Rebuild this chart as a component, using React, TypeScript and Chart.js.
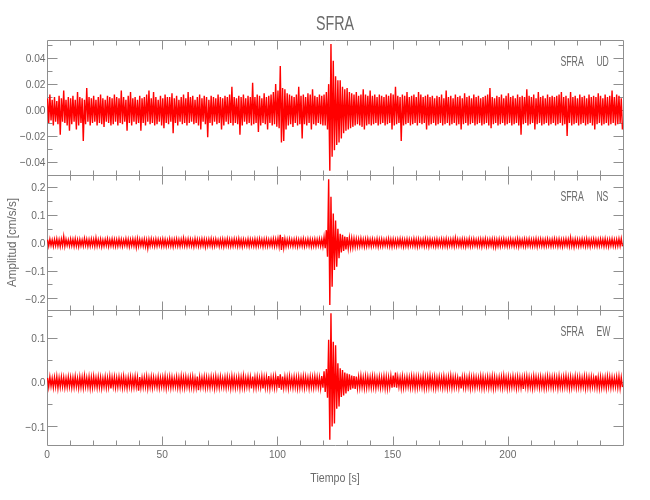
import React, { useEffect, useRef } from "react";
import { Chart, registerables } from "chart.js";

Chart.register(...registerables);

// ---------------- data ----------------
const TITLE = "SFRA";
const STATION = "SFRA";
const X_LABEL = "Tiempo [s]";
const Y_LABEL = "Amplitud [cm/s/s]";
const T_MIN = 0;
const T_MAX = 250;
const DT = 1; // seconds per envelope bin
const UNIT = 0.001; // stored values are in 1e-3 cm/s/s

const X_TICKS = [0, 50, 100, 150, 200];
const X_MINOR = [10, 20, 30, 40, 60, 70, 80, 90, 110, 120, 130, 140, 160, 170, 180, 190, 210, 220, 230, 240];

const UD_RANGE = [-0.0502, 0.0541];
const NS_RANGE = [-0.2417, 0.2431];
const EW_RANGE = [-0.1419, 0.1636];

const UD_TICKS = [-0.04, -0.02, 0, 0.02, 0.04];
const UD_MINOR = [-0.05, -0.03, -0.01, 0.01, 0.03, 0.05];
const NS_TICKS = [-0.2, -0.1, 0, 0.1, 0.2];
const NS_MINOR = [-0.15, -0.05, 0.05, 0.15];
const EW_TICKS = [-0.1, 0, 0.1];
const EW_MINOR = [-0.05, 0.05, 0.15];

// per-second maxima / minima of each trace (1e-3 cm/s/s)
const UD_HI = [
  9, 12, 8, 10, 7, 11, 9, 15, 8, 10,
  9, 11, 8, 14, 10, 9, 8, 17, 10, 9,
  11, 8, 10, 12, 9, 8, 11, 10, 9, 12,
  10, 9, 15, 10, 8, 11, 14, 9, 10, 8,
  11, 9, 10, 12, 15, 9, 14, 10, 8, 11,
  9, 12, 10, 10, 13, 9, 11, 8, 10, 12,
  9, 14, 10, 11, 8, 10, 12, 9, 11, 10,
  8, 11, 10, 9, 12, 10, 9, 11, 10, 12,
  18, 10, 9, 11, 10, 12, 9, 11, 10, 21,
  10, 12, 11, 9, 13, 10, 11, 12, 14, 20,
  15, 34, 17, 16, 13, 12, 11, 10, 12, 18,
  11, 12, 10, 13, 12, 16, 11, 10, 12, 11,
  12, 14, 20, 51, 38, 26, 23, 23, 18, 16,
  17, 14, 13, 12, 14, 11, 12, 16, 12, 11,
  15, 11, 12, 10, 12, 11, 10, 12, 11, 13,
  12, 18, 11, 10, 12, 11, 14, 10, 11, 12,
  10, 14, 12, 10, 11, 12, 10, 11, 9, 11,
  10, 12, 9, 15, 10, 11, 9, 12, 10, 11,
  9, 13, 10, 11, 9, 12, 10, 11, 9, 10,
  11, 12, 17, 10, 9, 11, 10, 12, 9, 11,
  13, 10, 11, 9, 12, 10, 11, 10, 16, 11,
  10, 12, 9, 14, 10, 11, 9, 12, 10, 11,
  10, 11, 12, 14, 10, 11, 9, 14, 10, 11,
  9, 12, 10, 11, 9, 12, 10, 11, 10, 13,
  11, 9, 12, 10, 11, 15, 10, 12, 11, 9,
];
const UD_LO = [
  -10, -8, -12, -9, -11, -19, -9, -10, -12, -16,
  -11, -9, -15, -12, -10, -24, -11, -9, -12, -10,
  -9, -12, -10, -11, -13, -9, -10, -12, -11, -9,
  -12, -10, -11, -9, -16, -10, -12, -9, -11, -10,
  -16, -10, -12, -9, -11, -10, -12, -11, -9, -12,
  -14, -10, -11, -9, -18, -10, -12, -9, -11, -10,
  -12, -10, -9, -11, -10, -12, -15, -9, -11, -21,
  -10, -12, -9, -11, -10, -15, -12, -9, -11, -10,
  -12, -10, -11, -19, -12, -9, -11, -10, -12, -11,
  -10, -17, -12, -10, -11, -15, -10, -12, -11, -13,
  -14, -25, -24, -15, -12, -11, -13, -10, -12, -11,
  -22, -11, -12, -10, -15, -11, -12, -10, -11, -12,
  -12, -15, -47, -36, -31, -27, -25, -22, -18, -16,
  -15, -14, -13, -12, -11, -12, -13, -15, -12, -11,
  -12, -11, -10, -12, -11, -10, -12, -11, -10, -15,
  -12, -11, -10, -24, -12, -11, -10, -12, -11, -10,
  -12, -10, -11, -10, -15, -12, -11, -10, -12, -11,
  -10, -12, -11, -10, -12, -11, -10, -12, -11, -15,
  -11, -10, -12, -11, -10, -12, -11, -10, -12, -11,
  -10, -12, -14, -11, -10, -12, -11, -10, -12, -11,
  -10, -12, -11, -10, -12, -19, -11, -10, -12, -11,
  -10, -15, -11, -10, -12, -11, -10, -12, -11, -10,
  -12, -11, -10, -12, -11, -20, -10, -12, -11, -10,
  -12, -11, -10, -12, -11, -10, -12, -15, -11, -10,
  -12, -11, -10, -12, -11, -10, -12, -11, -10, -15,
];

const NS_HI = [
  11, 13, 10, 12, 14, 11, 13, 22, 12, 10,
  13, 12, 14, 11, 12, 10, 15, 12, 11, 13,
  12, 17, 11, 13, 10, 12, 14, 11, 13, 12,
  11, 13, 12, 10, 14, 12, 11, 13, 12, 14,
  12, 11, 13, 10, 12, 14, 11, 13, 12, 11,
  13, 12, 10, 14, 11, 12, 13, 11, 12, 16,
  11, 13, 12, 10, 14, 12, 11, 13, 12, 11,
  12, 14, 11, 13, 10, 12, 13, 11, 14, 12,
  11, 13, 12, 14, 11, 12, 10, 13, 12, 11,
  13, 12, 14, 11, 12, 13, 11, 12, 14, 13,
  15, 28, 20, 14, 12, 13, 11, 12, 13, 11,
  12, 14, 11, 13, 12, 11, 13, 12, 14, 13,
  20, 45, 228, 165, 105, 80, 50, 32, 28, 22,
  20, 18, 16, 15, 14, 13, 15, 12, 13, 14,
  12, 13, 11, 14, 12, 13, 11, 12, 14, 12,
  13, 11, 12, 14, 12, 11, 13, 12, 11, 14,
  12, 13, 11, 12, 14, 12, 13, 11, 12, 13,
  11, 13, 12, 14, 11, 12, 13, 17, 12, 11,
  13, 12, 11, 14, 12, 13, 11, 12, 13, 12,
  14, 11, 12, 13, 12, 11, 13, 12, 14, 11,
  12, 13, 11, 12, 14, 12, 11, 13, 12, 13,
  11, 12, 14, 12, 13, 11, 12, 13, 11, 12,
  14, 12, 13, 11, 12, 13, 12, 18, 11, 13,
  12, 11, 13, 12, 14, 11, 12, 13, 12, 11,
  13, 12, 14, 11, 12, 13, 11, 12, 14, 15,
];
const NS_LO = [
  -12, -10, -13, -11, -12, -14, -11, -13, -10, -12,
  -11, -13, -12, -14, -11, -12, -10, -13, -12, -11,
  -13, -12, -11, -14, -12, -10, -13, -11, -12, -13,
  -12, -11, -13, -10, -12, -14, -11, -12, -17, -13,
  -11, -12, -14, -20, -12, -11, -13, -12, -10, -13,
  -12, -13, -11, -12, -14, -11, -12, -13, -11, -12,
  -13, -11, -12, -14, -11, -13, -12, -11, -15, -12,
  -11, -13, -12, -10, -13, -12, -14, -11, -12, -13,
  -12, -11, -13, -12, -14, -11, -12, -13, -11, -12,
  -13, -12, -11, -14, -12, -13, -11, -12, -13, -12,
  -14, -26, -18, -13, -12, -11, -13, -12, -14, -11,
  -12, -13, -11, -12, -14, -12, -13, -11, -12, -14,
  -20, -50, -224, -158, -98, -86, -56, -35, -30, -24,
  -20, -18, -17, -15, -14, -13, -12, -14, -13, -12,
  -13, -11, -12, -14, -12, -13, -11, -12, -13, -14,
  -12, -13, -11, -12, -14, -12, -13, -11, -12, -13,
  -14, -12, -11, -13, -12, -14, -11, -12, -13, -12,
  -11, -13, -12, -14, -11, -12, -13, -11, -12, -13,
  -12, -14, -11, -13, -12, -11, -13, -12, -14, -11,
  -13, -12, -11, -14, -16, -12, -13, -11, -12, -13,
  -12, -11, -13, -12, -14, -11, -12, -13, -11, -12,
  -13, -12, -14, -11, -12, -13, -12, -11, -13, -12,
  -11, -13, -12, -14, -11, -12, -13, -12, -15, -11,
  -13, -12, -11, -13, -12, -14, -11, -12, -13, -12,
  -11, -13, -12, -14, -11, -12, -13, -12, -11, -13,
];

const EW_HI = [
  10, 12, 9, 11, 13, 10, 12, 11, 9, 12,
  11, 10, 13, 9, 12, 11, 14, 10, 12, 11,
  13, 10, 12, 11, 9, 12, 10, 13, 11, 12,
  10, 12, 11, 13, 9, 11, 12, 10, 13, 11,
  12, 10, 11, 13, 10, 12, 11, 9, 12, 10,
  11, 13, 10, 12, 11, 9, 12, 10, 13, 11,
  12, 10, 11, 12, 9, 13, 11, 10, 12, 11,
  10, 12, 11, 13, 10, 12, 9, 11, 12, 10,
  13, 11, 10, 12, 11, 14, 10, 12, 11, 13,
  11, 12, 10, 13, 11, 12, 14, 11, 12, 13,
  14, 18, 13, 12, 11, 13, 10, 12, 11, 12,
  11, 13, 12, 10, 12, 11, 13, 12, 11, 14,
  25, 30, 96, 156, 92, 84, 43, 32, 28, 22,
  20, 18, 15, 14, 13, 12, 14, 11, 13, 12,
  11, 13, 12, 10, 12, 11, 13, 12, 11, 14,
  15, 22, 12, 11, 13, 10, 12, 11, 13, 12,
  11, 12, 10, 13, 11, 12, 14, 11, 12, 10,
  12, 11, 13, 10, 12, 14, 11, 12, 10, 13,
  11, 12, 10, 13, 11, 12, 11, 10, 13, 12,
  10, 12, 11, 13, 12, 10, 11, 12, 14, 11,
  12, 10, 13, 11, 12, 11, 10, 12, 13, 11,
  10, 13, 12, 11, 12, 10, 11, 13, 12, 11,
  12, 11, 13, 10, 12, 14, 11, 12, 10, 13,
  11, 12, 10, 13, 12, 11, 12, 10, 15, 11,
  12, 10, 11, 13, 12, 11, 10, 12, 13, 11,
];
const EW_LO = [
  -11, -9, -12, -10, -13, -11, -10, -12, -11, -10,
  -12, -11, -10, -13, -11, -12, -10, -11, -13, -12,
  -10, -12, -11, -13, -10, -12, -11, -14, -10, -12,
  -11, -10, -12, -11, -13, -10, -12, -11, -10, -19,
  -12, -11, -10, -13, -11, -12, -10, -11, -12, -10,
  -11, -13, -10, -12, -11, -10, -12, -13, -11, -12,
  -10, -12, -11, -13, -12, -18, -11, -10, -12, -11,
  -12, -10, -13, -11, -12, -10, -11, -12, -10, -13,
  -11, -12, -10, -13, -11, -12, -10, -11, -14, -12,
  -12, -10, -11, -14, -12, -11, -13, -10, -12, -11,
  -13, -17, -12, -11, -13, -10, -12, -11, -13, -12,
  -11, -12, -10, -13, -11, -12, -10, -11, -13, -12,
  -22, -35, -130, -100, -93, -60, -55, -33, -30, -25,
  -20, -17, -14, -15, -13, -12, -11, -13, -12, -11,
  -12, -11, -13, -10, -12, -11, -13, -14, -11, -12,
  -11, -12, -10, -13, -12, -11, -10, -12, -11, -13,
  -12, -10, -11, -13, -12, -11, -10, -12, -13, -11,
  -10, -12, -11, -13, -10, -12, -11, -10, -12, -14,
  -11, -12, -10, -13, -11, -12, -10, -11, -12, -13,
  -10, -12, -11, -13, -12, -10, -11, -12, -10, -13,
  -12, -11, -10, -13, -11, -12, -15, -10, -12, -11,
  -13, -11, -10, -12, -11, -13, -12, -10, -11, -12,
  -10, -13, -11, -12, -10, -11, -13, -12, -10, -12,
  -11, -12, -10, -13, -11, -12, -10, -11, -12, -13,
  -12, -11, -13, -10, -12, -11, -10, -12, -13, -11,
];

// ---------------- styling ----------------
const FONT = "'Liberation Sans', Arial, sans-serif";
const TEXT_COLOR = "#6b6b6b";
const AXIS_COLOR = "#8f8f8f";
const TRACE_COLOR = "#ff0000";

const PANELS = [
  { id: "yUD", name: "UD", hi: UD_HI, lo: UD_LO, range: UD_RANGE, ticks: UD_TICKS, minor: UD_MINOR, dec: 2, weight: 3 },
  { id: "yNS", name: "NS", hi: NS_HI, lo: NS_LO, range: NS_RANGE, ticks: NS_TICKS, minor: NS_MINOR, dec: 1, weight: 2 },
  { id: "yEW", name: "EW", hi: EW_HI, lo: EW_LO, range: EW_RANGE, ticks: EW_TICKS, minor: EW_MINOR, dec: 1, weight: 1 },
];

function envelope(hi: number[], lo: number[]) {
  const pts: { x: number; y: number }[] = [];
  for (let i = 0; i < hi.length; i++) {
    pts.push({ x: T_MIN + (i + 0.25) * DT, y: hi[i] * UNIT });
    pts.push({ x: T_MIN + (i + 0.75) * DT, y: lo[i] * UNIT });
  }
  return pts;
}

function drawText(
  ctx: CanvasRenderingContext2D,
  text: string,
  x: number,
  y: number,
  size: number,
  align: CanvasTextAlign,
  sx: number,
  rot = 0
) {
  ctx.save();
  ctx.translate(x, y);
  if (rot) ctx.rotate(rot);
  ctx.scale(sx, 1);
  ctx.font = `${size}px ${FONT}`;
  ctx.fillStyle = TEXT_COLOR;
  ctx.textAlign = align;
  ctx.textBaseline = "alphabetic";
  ctx.fillText(text, 0, 0);
  ctx.restore();
}

function fmt(v: number, dec: number) {
  const s = Math.abs(v).toFixed(dec);
  return v < 0 ? "\u2212" + s : s;
}

const crisp = (v: number) => Math.round(v) + 0.5;

const framePlugin = {
  id: "idlFrame",
  beforeDatasetsDraw(chart: any) {
    const ctx: CanvasRenderingContext2D = chart.ctx;
    const xs = chart.scales.x;
    ctx.save();
    ctx.strokeStyle = AXIS_COLOR;
    ctx.lineWidth = 1;
    for (const p of PANELS) {
      const ys = chart.scales[p.id];
      const L = crisp(xs.left);
      const R = crisp(xs.right);
      const T = crisp(ys.top);
      const B = crisp(ys.bottom);
      ctx.beginPath();
      ctx.rect(L, T, R - L, B - T);
      const yTick = (v: number, len: number) => {
        const y = crisp(ys.getPixelForValue(v));
        ctx.moveTo(L, y);
        ctx.lineTo(L + len, y);
        ctx.moveTo(R, y);
        ctx.lineTo(R - len, y);
      };
      p.ticks.forEach((v) => yTick(v, 10));
      p.minor.forEach((v) => yTick(v, 5));
      const xTick = (v: number, len: number) => {
        const x = crisp(xs.getPixelForValue(v));
        ctx.moveTo(x, T);
        ctx.lineTo(x, T + len);
        ctx.moveTo(x, B);
        ctx.lineTo(x, B - len);
      };
      X_TICKS.filter((v) => v > T_MIN).forEach((v) => xTick(v, 9));
      X_MINOR.forEach((v) => xTick(v, 5));
      ctx.stroke();
    }
    ctx.restore();
  },
  afterDraw(chart: any) {
    const ctx: CanvasRenderingContext2D = chart.ctx;
    const xs = chart.scales.x;
    const cx = (xs.left + xs.right) / 2;
    drawText(ctx, TITLE, cx, 29.5, 21, "center", 0.68);
    for (const p of PANELS) {
      const ys = chart.scales[p.id];
      p.ticks.forEach((v) => {
        const y = ys.getPixelForValue(v);
        drawText(ctx, fmt(v, p.dec), xs.left - 1.5, y + 4.2, 11.6, "right", 0.88);
      });
      drawText(ctx, STATION, xs.right - 62.6, ys.top + 26, 15.4, "left", 0.57);
      drawText(ctx, p.name, xs.right - 26.6, ys.top + 26, 15.4, "left", 0.56);
    }
    const bottom = chart.scales.yEW.bottom;
    X_TICKS.forEach((v) => {
      drawText(ctx, String(v), xs.getPixelForValue(v), bottom + 13, 11.6, "center", 0.88);
    });
    drawText(ctx, X_LABEL, cx, bottom + 37, 13, "center", 0.82);
    const ns = chart.scales.yNS;
    drawText(ctx, Y_LABEL, 16, (ns.top + ns.bottom) / 2, 13, "center", 0.9, -Math.PI / 2);
  },
};

export default function App() {
  const ref = useRef<HTMLCanvasElement | null>(null);

  useEffect(() => {
    if (!ref.current) return;
    const yScale = (p: (typeof PANELS)[number]) => ({
      type: "linear" as const,
      position: "left" as const,
      stack: "panels",
      stackWeight: 1,
      weight: p.weight,
      min: p.range[0],
      max: p.range[1],
      ticks: { display: false },
      grid: { display: false, drawTicks: false },
      border: { display: false },
      afterFit: (s: any) => {
        s.width = 47;
      },
    });
    const scales: any = {
      x: {
        type: "linear",
        position: "bottom",
        min: T_MIN,
        max: T_MAX,
        ticks: { display: false },
        grid: { display: false, drawTicks: false },
        border: { display: false },
        afterFit: (s: any) => {
          s.height = 55;
        },
      },
    };
    [...PANELS].reverse().forEach((p) => {
      scales[p.id] = yScale(p);
    });

    const chart = new Chart(ref.current, {
      type: "line",
      data: {
        datasets: PANELS.map((p) => ({
          label: p.name,
          data: envelope(p.hi, p.lo),
          xAxisID: "x",
          yAxisID: p.id,
          borderColor: TRACE_COLOR,
          borderWidth: 1.4,
          pointRadius: 0,
          tension: 0,
          fill: false,
        })),
      },
      options: {
        responsive: false,
        devicePixelRatio: 1,
        animation: false,
        events: [],
        layout: { padding: { left: 0, right: 27, top: 40, bottom: 0 } },
        plugins: {
          legend: { display: false },
          title: { display: false },
          tooltip: { enabled: false },
        },
        scales,
      },
      plugins: [framePlugin],
    });
    return () => chart.destroy();
  }, []);

  return (
    <div style={{ position: "absolute", left: 0, top: 0, width: 650, height: 500, background: "#fff" }}>
      <canvas ref={ref} width={650} height={500} style={{ display: "block" }} />
    </div>
  );
}
